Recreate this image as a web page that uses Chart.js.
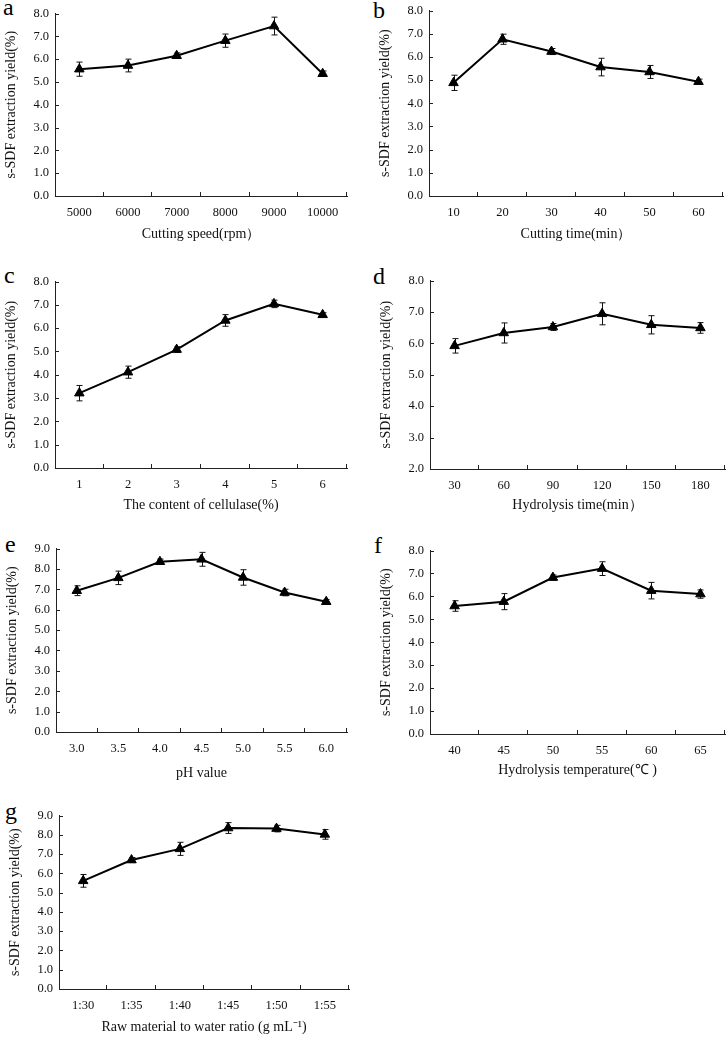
<!DOCTYPE html>
<html>
<head>
<meta charset="utf-8">
<script src="https://cdn.jsdelivr.net/npm/chart.js@4.4.1/dist/chart.umd.min.js"></script>
<style>
  html, body { margin: 0; padding: 0; background: #fff; }
  body { width: 727px; height: 1039px; position: relative; overflow: hidden; }
  canvas { position: absolute; }
  .lbl { position: absolute; font-family: "Liberation Serif", serif; font-size: 24px; line-height: 24px; color: #000; }
</style>
</head>
<body>
<div class="lbl" style="left:3px;top:-5px">a</div>
<div class="lbl" style="left:373px;top:-2px">b</div>
<div class="lbl" style="left:4px;top:263px">c</div>
<div class="lbl" style="left:373px;top:264px">d</div>
<div class="lbl" style="left:5px;top:532px">e</div>
<div class="lbl" style="left:374px;top:533px">f</div>
<div class="lbl" style="left:5px;top:799px">g</div>
<canvas id="ca"></canvas>
<canvas id="cb"></canvas>
<canvas id="cc"></canvas>
<canvas id="cd"></canvas>
<canvas id="ce"></canvas>
<canvas id="cf"></canvas>
<canvas id="cg"></canvas>
<script>
// ---- Data ----
const yTitle = 's-SDF extraction yield(%)';

const speedLabels = ['5000', '6000', '7000', '8000', '9000', '10000'];
const speedYield  = [5.56, 5.72, 6.15, 6.81, 7.45, 5.36];
const speedErr    = [0.31, 0.28, 0.12, 0.29, 0.39, 0.12];

const cutTimeLabels = ['10', '20', '30', '40', '50', '60'];
const cutTimeYield  = [4.88, 6.76, 6.23, 5.56, 5.35, 4.93];
const cutTimeErr    = [0.33, 0.22, 0.13, 0.38, 0.28, 0.11];

const cellLabels = ['1', '2', '3', '4', '5', '6'];
const cellYield  = [3.21, 4.11, 5.08, 6.33, 7.04, 6.57];
const cellErr    = [0.33, 0.26, 0.12, 0.25, 0.16, 0.09];

const hydTimeLabels = ['30', '60', '90', '120', '150', '180'];
const hydTimeYield  = [5.92, 6.33, 6.52, 6.94, 6.59, 6.49];
const hydTimeErr    = [0.23, 0.32, 0.11, 0.35, 0.29, 0.17];

const phLabels = ['3.0', '3.5', '4.0', '4.5', '5.0', '5.5', '6.0'];
const phYield  = [6.93, 7.56, 8.35, 8.47, 7.58, 6.84, 6.39];
const phErr    = [0.24, 0.33, 0.13, 0.34, 0.38, 0.16, 0.11];

const tempLabels = ['40', '45', '50', '55', '60', '65'];
const tempYield  = [5.58, 5.77, 6.82, 7.21, 6.25, 6.1];
const tempErr    = [0.23, 0.35, 0.11, 0.30, 0.36, 0.18];

const ratioLabels = ['1:30', '1:35', '1:40', '1:45', '1:50', '1:55'];
const ratioYield  = [5.61, 6.69, 7.27, 8.35, 8.32, 8.02];
const ratioErr    = [0.33, 0.13, 0.34, 0.28, 0.17, 0.25];

const yRange8 = [0, 8];   // min, max for panels a,b,c,f
const yRangeD = [2, 8];
const yRange9 = [0, 9];

// ---- Drawing ----
const SERIF = '"Liberation Serif", "Times New Roman", serif';
const AXIS_W = 55, PAD_T = 10, PAD_R = 10, AXIS_H = 50;

const decorPlugin = {
  id: 'decor',
  beforeDatasetsDraw(chart) {
    const ctx = chart.ctx;
    const xs = chart.scales.x, ys = chart.scales.y;
    const vals = chart.data.datasets[0].data;
    const errs = chart.options.plugins.decor.err;
    ctx.save();
    ctx.strokeStyle = '#111';
    ctx.lineWidth = 1;
    for (let i = 0; i < vals.length; i++) {
      const x = Math.round(xs.getPixelForValue(i)) + 0.5;
      const y1 = ys.getPixelForValue(vals[i] + errs[i]);
      const y2 = ys.getPixelForValue(vals[i] - errs[i]);
      ctx.beginPath();
      ctx.moveTo(x, y1); ctx.lineTo(x, y2);
      ctx.moveTo(x - 3, y1); ctx.lineTo(x + 3, y1);
      ctx.moveTo(x - 3, y2); ctx.lineTo(x + 3, y2);
      ctx.stroke();
    }
    ctx.restore();
  },
  afterDraw(chart) {
    const ctx = chart.ctx;
    const xs = chart.scales.x, ys = chart.scales.y;
    const a = chart.chartArea;
    ctx.save();
    ctx.strokeStyle = '#222';
    ctx.lineWidth = 1;
    const n = chart.data.labels.length;
    ctx.beginPath();
    for (let i = 1; i <= n; i++) {
      const x = Math.round(xs.left + i * xs.width / n) - 0.5;
      ctx.moveTo(x, a.bottom); ctx.lineTo(x, a.bottom - 4);
    }
    ys.ticks.forEach(t => {
      const y = Math.round(ys.getPixelForValue(t.value)) + 0.5;
      ctx.moveTo(a.left, y); ctx.lineTo(a.left + 4, y);
    });
    ctx.stroke();
    ctx.restore();
  }
};

function makePanel(id, rect, labels, values, errs, yRange, xTitle, xTitleOff) {
  const [L, T, R, B] = rect;
  const cv = document.getElementById(id);
  const w = Math.round(R - L) + AXIS_W + PAD_R;
  const h = Math.round(B - T) + PAD_T + AXIS_H;
  cv.style.left = (L - AXIS_W) + 'px';
  cv.style.top = (T - PAD_T) + 'px';
  cv.width = w; cv.height = h;
  cv.style.width = w + 'px'; cv.style.height = h + 'px';
  const xFont = 14, lh = xFont * 1.2;
  new Chart(cv, {
    type: 'line',
    data: {
      labels: labels,
      datasets: [{
        data: values,
        borderColor: '#000',
        borderWidth: 2,
        backgroundColor: '#000',
        pointStyle: 'triangle',
        pointRadius: 5.5,
        pointBackgroundColor: '#000',
        pointBorderColor: '#000',
        pointBorderWidth: 1,
        tension: 0,
        fill: false
      }]
    },
    options: {
      responsive: false,
      animation: false,
      layout: { padding: { left: 0, top: PAD_T, right: PAD_R, bottom: 0 } },
      plugins: {
        legend: { display: false },
        tooltip: { enabled: false },
        decor: { err: errs }
      },
      scales: {
        x: {
          type: 'category',
          offset: true,
          grid: { display: true, drawOnChartArea: false, drawTicks: false, offset: true },
          border: { display: true, color: '#222', width: 1 },
          ticks: { color: '#111', font: { family: SERIF, size: 12.5 }, padding: 9, maxRotation: 0, autoSkip: false },
          title: { display: true, text: xTitle, color: '#111', font: { family: SERIF, size: xFont },
                   padding: { top: 0, bottom: AXIS_H - xTitleOff - lh / 2 } },
          afterFit(s) { s.height = AXIS_H; }
        },
        y: {
          min: yRange[0], max: yRange[1],
          grid: { display: true, drawOnChartArea: false, drawTicks: false },
          border: { display: true, color: '#222', width: 1 },
          ticks: { stepSize: 1, color: '#111', font: { family: SERIF, size: 12.5 }, padding: 6,
                   callback: v => Number(v).toFixed(1) },
          title: { display: true, text: yTitle, color: '#111', font: { family: SERIF, size: 14 },
                   padding: { top: 3, bottom: 0 } },
          afterFit(s) { s.width = AXIS_W; }
        }
      }
    },
    plugins: [decorPlugin]
  });
}

makePanel('ca', [55, 10, 347, 196], speedLabels, speedYield, speedErr, yRange8, 'Cutting speed(rpm）', 38);
makePanel('cb', [429, 7, 723, 196], cutTimeLabels, cutTimeYield, cutTimeErr, yRange8, 'Cutting time(min）', 38);
makePanel('cc', [55, 278, 347, 468], cellLabels, cellYield, cellErr, yRange8, 'The content of cellulase(%)', 37);
makePanel('cd', [430, 277, 725, 469], hydTimeLabels, hydTimeYield, hydTimeErr, yRangeD, 'Hydrolysis time(min）', 36);
makePanel('ce', [56, 545, 347, 732], phLabels, phYield, phErr, yRange9, 'pH value', 41);
makePanel('cf', [430, 547, 725, 734], tempLabels, tempYield, tempErr, yRange8, 'Hydrolysis temperature(℃ )', 36);
makePanel('cg', [59, 812, 349, 989], ratioLabels, ratioYield, ratioErr, yRange9, 'Raw material to water ratio (g mL⁻¹)', 38);
</script>
</body>
</html>
